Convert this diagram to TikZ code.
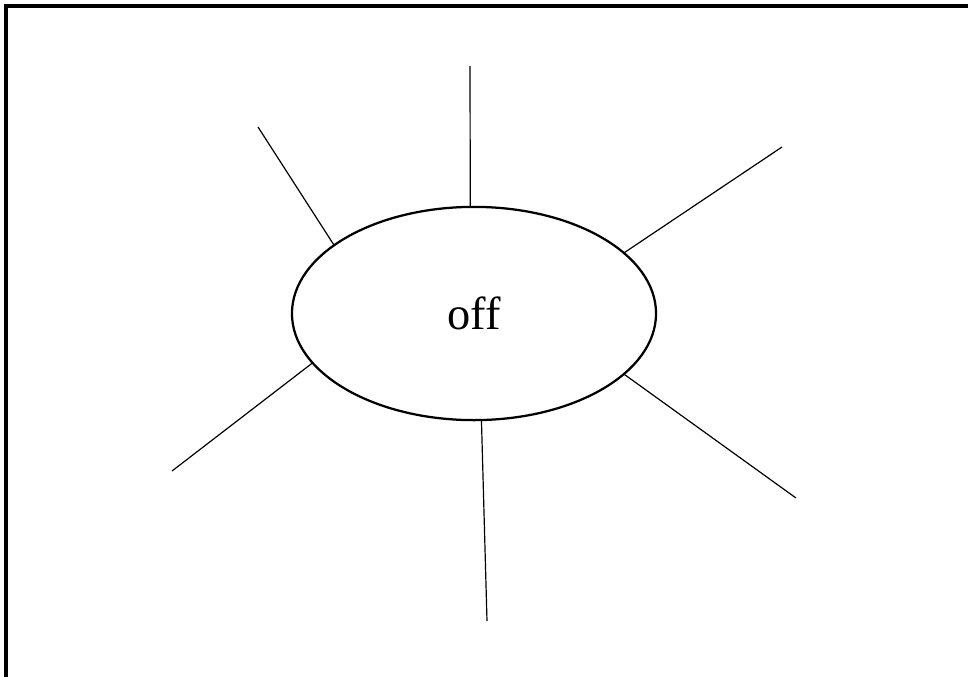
\documentclass[tikz,border=0pt]{standalone}
\usepackage{fontspec}
\setmainfont{Liberation Serif}
\usepackage{tikz}
\usetikzlibrary{shapes.geometric}
\tikzset{
  state/.style={ellipse, draw=black, line width=1.6pt, inner sep=0pt, outer sep=0pt,
                minimum width=9.1cm, minimum height=5.33cm,
                font=\fontsize{33}{40}\selectfont},
  ray/.style={line width=0.85pt},
  frame/.style={line width=2.2pt},
}
\begin{document}
\begin{tikzpicture}[x=0.025cm, y=-0.025cm]
    \useasboundingbox (0,0) rectangle (968,677);
    %% frame: only top and left edges show
    \draw[frame] (6,680) -- (6,6) -- (971,6);
    %% the state
    \node[state] (off) at (474,313.5) {off};
    %% free ends of the rays
    \coordinate (r1) at (258,127);
    \coordinate (r2) at (470,66);
    \coordinate (r3) at (782,147);
    \coordinate (r4) at (796,498);
    \coordinate (r5) at (487,621);
    \coordinate (r6) at (172,471);
    %% rays
    \draw[ray] (off.154) -- (r1);
    \draw[ray] (off.92)  -- (r2);
    \draw[ray] (off.22)  -- (r3);
    \draw[ray] (off.338) -- (r4);
    \draw[ray] (off.274) -- (r5);
    \draw[ray] (off.197) -- (r6);
  \end{tikzpicture}
\end{document}
